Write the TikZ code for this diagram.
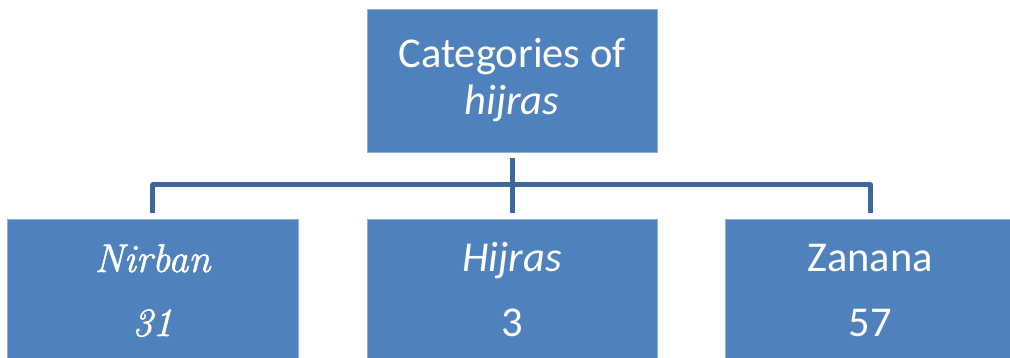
\documentclass[tikz,border=0pt]{standalone}
\usepackage{fontspec}
\setmainfont{Carlito}
\newfontfamily\lmserif[FakeBold=1.5]{Latin Modern Roman}
\definecolor{boxblue}{HTML}{4F81BD}
\definecolor{boxedge}{HTML}{8FB0D8}
\definecolor{linkblue}{HTML}{41679A}
\begin{document}
\begin{tikzpicture}[x=1pt,y=-1pt,
  box/.style={draw=boxedge, line width=0.8pt, fill=boxblue, minimum width=290pt, minimum height=143pt, inner sep=0pt, anchor=north west},
  lbl/.style={text=white, font=\fontsize{42.5}{50}\selectfont, anchor=base, inner sep=0pt},
  serlbl/.style={text=white, font=\lmserif\itshape\fontsize{40}{48}\selectfont, anchor=base, inner sep=0pt},
  link/.style={draw=linkblue, line width=5pt, line join=round}]
\useasboundingbox (0,0) rectangle (1010,358);
\clip (0,0) rectangle (1010,358);
\node[box] (top) at (367,9) {};
\node[box, minimum width=291pt, minimum height=170pt] (left) at (7,219) {};
\node[box, minimum height=170pt] (mid) at (367,219) {};
\node[box, minimum height=170pt] (right) at (725,219) {};
\coordinate (j) at (512,185);
\draw[link] ([yshift=-5pt]top.south) -- ([yshift=6pt]mid.north);
\draw[link] ([yshift=6pt]left.north) -- (left.north |- j) -- (right.north |- j) -- ([yshift=6pt]right.north);
\node[lbl] (t1) at (512,68) {Categories of};
\node[lbl] (t2) at (512,115) {\itshape hijras};
\node[serlbl] (l1) at (152.5,272) {Nirban};
\node[serlbl] (l2) at (152.5,336) {31};
\node[lbl] (m1) at (512,272) {\itshape Hijras};
\node[lbl] (m2) at (512,336) {3};
\node[lbl] (r1) at (870,272) {Zanana};
\node[lbl] (r2) at (870,336) {57};
\end{tikzpicture}
\end{document}
